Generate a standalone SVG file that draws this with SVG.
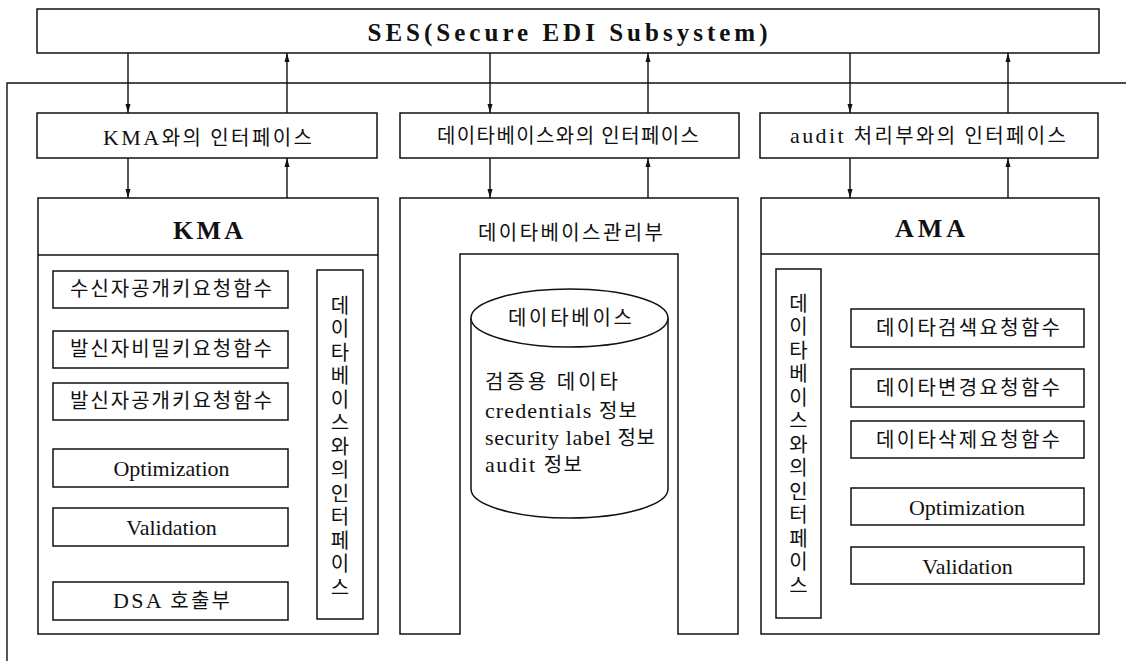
<svg xmlns="http://www.w3.org/2000/svg" width="1126" height="661" viewBox="0 0 1126 661">
<style>
.bx{fill:#fff;stroke:#111;stroke-width:1.5}
.nf{fill:none;stroke:#111;stroke-width:1.5}
.ln{fill:none;stroke:#111;stroke-width:1.4}
.t{font-family:"Liberation Serif","Noto Sans CJK KR",serif;font-size:22px;fill:#111;text-anchor:middle}
.tl{font-family:"Liberation Serif","Noto Sans CJK KR",serif;font-size:22px;fill:#111}
.k{font-family:"Noto Sans CJK KR","Liberation Sans",sans-serif;font-size:20px}
.kt{font-family:"Noto Sans CJK KR","Liberation Sans",sans-serif;font-size:20px;fill:#111;text-anchor:middle}
.v{font-family:"Noto Sans CJK KR","Liberation Sans",sans-serif;font-size:20px;fill:#111;writing-mode:vertical-rl;letter-spacing:3.5px}
.h{font-family:"Liberation Serif","Noto Sans CJK KR",serif;font-weight:bold;fill:#111;text-anchor:middle}
</style>
<defs>
<marker id="ah" markerUnits="userSpaceOnUse" markerWidth="9" markerHeight="6" refX="9" refY="3" orient="auto">
<path d="M0,0.5 L9,3 L0,5.5 z" fill="#111"/>
</marker>
</defs>
<rect width="1126" height="661" fill="#fff"/>

<g id="frame">
<path class="ln" d="M7,661 V83 H1126"/>
</g>

<g id="ses">
<rect class="bx" x="37" y="9" width="1062" height="44"/>
<text class="h" x="567.5" y="41" font-size="25" textLength="400" lengthAdjust="spacing">SES(Secure EDI Subsystem)</text>
</g>

<g id="kma-if">
<rect class="bx" x="37" y="113" width="340" height="45"/>
<text class="t" x="207.5" y="145" textLength="209" lengthAdjust="spacing">KMA<tspan class="k">와의 인터페이스</tspan></text>
</g>
<g id="db-if">
<rect class="bx" x="400" y="113" width="339" height="45"/>
<text class="kt" x="568" y="143" textLength="262" lengthAdjust="spacing">데이타베이스와의 인터페이스</text>
</g>
<g id="audit-if">
<rect class="bx" x="760" y="113" width="338" height="45"/>
<text class="t" x="928" y="143" textLength="276" lengthAdjust="spacing">audit <tspan class="k">처리부와의 인터페이스</tspan></text>
</g>

<g id="connectors">
<line class="ln" x1="128" y1="53" x2="128" y2="113" marker-end="url(#ah)"/>
<line class="ln" x1="287" y1="113" x2="287" y2="53" marker-end="url(#ah)"/>
<line class="ln" x1="490" y1="53" x2="490" y2="113" marker-end="url(#ah)"/>
<line class="ln" x1="648" y1="113" x2="648" y2="53" marker-end="url(#ah)"/>
<line class="ln" x1="850" y1="53" x2="850" y2="113" marker-end="url(#ah)"/>
<line class="ln" x1="1008" y1="113" x2="1008" y2="53" marker-end="url(#ah)"/>
<line class="ln" x1="128" y1="158" x2="128" y2="198" marker-end="url(#ah)"/>
<line class="ln" x1="287" y1="198" x2="287" y2="158" marker-end="url(#ah)"/>
<line class="ln" x1="490" y1="158" x2="490" y2="198" marker-end="url(#ah)"/>
<line class="ln" x1="648" y1="198" x2="648" y2="158" marker-end="url(#ah)"/>
<line class="ln" x1="850" y1="158" x2="850" y2="198" marker-end="url(#ah)"/>
<line class="ln" x1="1008" y1="198" x2="1008" y2="158" marker-end="url(#ah)"/>
</g>

<g id="kma">
<rect class="bx" x="38" y="198" width="340" height="436"/>
<line class="nf" x1="38" y1="255" x2="378" y2="255"/>
<text class="h" x="208" y="239" font-size="26" textLength="70" lengthAdjust="spacing">KMA</text>
<rect class="bx" x="53" y="271" width="235" height="37"/>
<text class="kt" x="171" y="296" textLength="202" lengthAdjust="spacing">수신자공개키요청함수</text>
<rect class="bx" x="53" y="331" width="235" height="37"/>
<text class="kt" x="171" y="356" textLength="202" lengthAdjust="spacing">발신자비밀키요청함수</text>
<rect class="bx" x="53" y="383" width="235" height="37"/>
<text class="kt" x="171" y="408" textLength="202" lengthAdjust="spacing">발신자공개키요청함수</text>
<rect class="bx" x="53" y="449" width="235" height="38"/>
<text class="t" x="171.5" y="476">Optimization</text>
<rect class="bx" x="53" y="508" width="235" height="38"/>
<text class="t" x="171.5" y="535">Validation</text>
<rect class="bx" x="53" y="582" width="235" height="38"/>
<text class="t" x="171.5" y="608" textLength="117" lengthAdjust="spacing">DSA <tspan class="k">호출부</tspan></text>
<rect class="bx" x="317" y="270" width="46" height="349"/>
<text class="v" x="340" y="295">데이타베이스와의인터페이스</text>
</g>

<g id="dbm">
<path class="bx" d="M400,634 V198 H738 V634 H678 V254 H460 V634 Z"/>
<text class="kt" x="570.5" y="240" textLength="185" lengthAdjust="spacing">데이타베이스관리부</text>
</g>

<g id="database">
<path class="bx" d="M471,318 V489 A98.5,29 0 0 0 668,489 V318"/>
<ellipse class="bx" cx="569.5" cy="318" rx="98.5" ry="29"/>
<text class="kt" x="570" y="325" textLength="124" lengthAdjust="spacing">데이타베이스</text>
<text class="kt" x="485" y="389" style="text-anchor:start" textLength="133" lengthAdjust="spacing">검증용 데이타</text>
<text class="tl" x="485" y="418" textLength="152" lengthAdjust="spacing">credentials <tspan class="k">정보</tspan></text>
<text class="tl" x="485" y="445" textLength="170" lengthAdjust="spacing">security label <tspan class="k">정보</tspan></text>
<text class="tl" x="485" y="472" textLength="97" lengthAdjust="spacing">audit <tspan class="k">정보</tspan></text>
</g>

<g id="ama">
<rect class="bx" x="761" y="198" width="338" height="436"/>
<line class="nf" x1="761" y1="254" x2="1099" y2="254"/>
<text class="h" x="930" y="237" font-size="26" textLength="70" lengthAdjust="spacing">AMA</text>
<rect class="bx" x="776" y="269" width="45" height="349"/>
<text class="v" x="798.5" y="293">데이타베이스와의인터페이스</text>
<rect class="bx" x="851" y="309" width="233" height="38"/>
<text class="kt" x="968" y="335" textLength="184" lengthAdjust="spacing">데이타검색요청함수</text>
<rect class="bx" x="851" y="369" width="233" height="38"/>
<text class="kt" x="968" y="395" textLength="184" lengthAdjust="spacing">데이타변경요청함수</text>
<rect class="bx" x="851" y="421" width="233" height="37"/>
<text class="kt" x="968" y="446.5" textLength="184" lengthAdjust="spacing">데이타삭제요청함수</text>
<rect class="bx" x="851" y="488" width="233" height="37"/>
<text class="t" x="967" y="514.5">Optimization</text>
<rect class="bx" x="851" y="547" width="233" height="37"/>
<text class="t" x="967.5" y="573.5">Validation</text>
</g>
</svg>
